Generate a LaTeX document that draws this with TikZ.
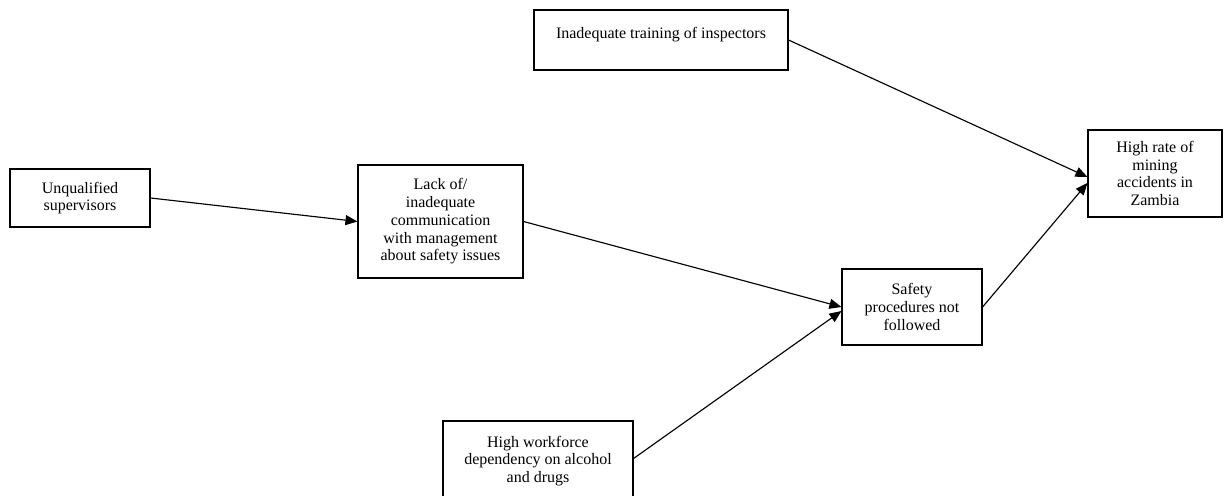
\documentclass[tikz,border=0pt]{standalone}
\usepackage{fontspec}
\setmainfont{Liberation Serif}
\usetikzlibrary{arrows.meta}
\tikzset{%
	box/.style={draw, rectangle, line width=0.65pt, inner sep=0mm, align=center,%
		font=\fontsize{9.1}{10.1}\selectfont},
	sel/.style={-{Triangle[length=2.4mm, width=2mm]}, line width=0.65pt}
}

\begin{document}
\begin{tikzpicture}[x=0.02cm, y=-0.02cm]
	\useasboundingbox (0,0) rectangle (1224,496);
	\node[box, minimum width=50.8mm, minimum height=12mm]   (train)  at (661,40)      {\raisebox{2.8mm}{Inadequate training of inspectors}};
	\node[box, minimum width=28mm, minimum height=11.6mm]   (unq)    at (80,198)      {Unqualified\\supervisors};
	\node[box, minimum width=33mm, minimum height=22.6mm]   (lack)   at (440.5,221.5) {Lack of/\\inadequate\\communication\\with management\\about safety issues};
	\node[box, minimum width=26.8mm, minimum height=17.4mm] (rate)   at (1155,173.5)  {High rate of\\mining\\accidents in\\Zambia};
	\node[box, minimum width=28mm, minimum height=15.2mm]   (safety) at (912,307)     {Safety\\procedures not\\followed};
	\node[box, minimum width=38mm, minimum height=16mm]     (drugs)  at (538,461)     {High workforce\\dependency on alcohol\\and drugs};
	% links
	\draw[sel] (train.east) -- ([yshift=-0.7mm]rate.west);
	\draw[sel] (unq.east) -- (lack.west);
	\draw[sel] (lack.east) -- (safety.west);
	\draw[sel] ([yshift=0.5mm]drugs.east) -- ([yshift=-0.8mm]safety.west);
	\draw[sel] (safety.east) -- ([yshift=-1.9mm]rate.west);
\end{tikzpicture}
\end{document}
